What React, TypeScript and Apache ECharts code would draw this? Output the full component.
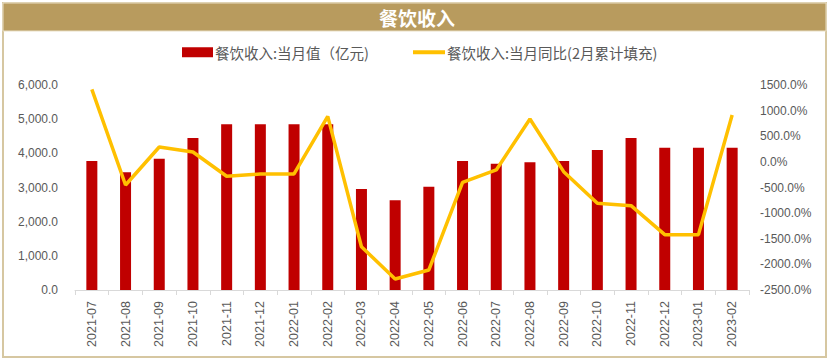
import React, { useEffect, useRef } from "react";
import * as echarts from "echarts";

const categories = [
  "2021-07", "2021-08", "2021-09", "2021-10", "2021-11", "2021-12",
  "2022-01", "2022-02", "2022-03", "2022-04", "2022-05", "2022-06",
  "2022-07", "2022-08", "2022-09", "2022-10", "2022-11", "2022-12",
  "2023-01", "2023-02",
];

const monthlyValue = [
  3777, 3445, 3844, 4449, 4849, 4849, 4849, 4849, 2956, 2625,
  3024, 3776, 3698, 3737, 3776, 4098, 4449, 4166, 4166, 4166,
];

const yoyValue = [
  1416, -451, 290, 193, -281, -236, -236, 889, -1655, -2285,
  -2109, -398, -158, 837, -191, -808, -854, -1420, -1420, 915,
];

const barName = "餐饮收入:当月值（亿元)";
const lineName = "餐饮收入:当月同比(2月累计填充)";
const titleText = "餐饮收入";

export default function App() {
  const ref = useRef<HTMLDivElement>(null);
  useEffect(() => {
    if (!ref.current) return;
    const chart = echarts.init(ref.current, null, { renderer: "svg" });
    const labelColor = "#595959";
    const font = "'Liberation Sans', Arial, sans-serif";
    const cjk = "'Noto Sans CJK SC', sans-serif";
    chart.setOption({
      animation: false,
      backgroundColor: "#ffffff",
      graphic: [
        {
          type: "rect",
          shape: { x: 3, y: 3, width: 823, height: 354 },
          style: { fill: "none", stroke: "#D6C7A1", lineWidth: 2 },
          z: 0,
        },
        {
          type: "rect",
          shape: { x: 3, y: 3, width: 823, height: 28 },
          style: { fill: "#B89B5E", stroke: "#E9DFC6", lineWidth: 1 },
          z: 1,
        },
      ],
      title: {
        text: titleText,
        left: 417,
        top: 6,
        padding: 0,
        textAlign: "center",
        textStyle: {
          color: "#ffffff",
          fontSize: 19,
          fontWeight: "bold",
          fontFamily: cjk,
          lineHeight: 22,
        },
        z: 5,
      },
      legend: [
        {
          data: [barName],
          left: 182,
          top: 45,
          padding: 0,
          itemWidth: 31,
          itemHeight: 10,
          icon: "rect",
          textStyle: { color: labelColor, fontSize: 14.5, fontFamily: cjk, padding: [0, 0, 0, -3] },
        },
        {
          data: [lineName],
          left: 413,
          top: 45,
          padding: 0,
          itemWidth: 32,
          itemHeight: 4,
          icon: "rect",
          textStyle: { color: labelColor, fontSize: 14.5, fontFamily: cjk, padding: [0, 0, 0, -3] },
        },
      ],
      grid: { left: 75, right: 83, top: 85, bottom: 74, containLabel: false },
      xAxis: {
        type: "category",
        data: categories,
        boundaryGap: true,
        axisLine: { lineStyle: { color: "#D9D9D9", width: 1 } },
        axisTick: { show: true, alignWithLabel: false, length: 5, lineStyle: { color: "#D9D9D9" } },
        axisLabel: {
          rotate: 90,
          color: labelColor,
          fontSize: 12.5,
          fontFamily: font,
          margin: 11,
          interval: 0,
        },
        splitLine: { show: false },
      },
      yAxis: [
        {
          type: "value",
          min: 0,
          max: 6000,
          interval: 1000,
          axisLine: { show: false },
          axisTick: { show: false },
          splitLine: { show: false },
          axisLabel: {
            color: labelColor,
            fontSize: 12,
            fontFamily: font,
            margin: 17,
            formatter: (v: number) =>
              v.toLocaleString("en-US", { minimumFractionDigits: 1, maximumFractionDigits: 1 }),
          },
        },
        {
          type: "value",
          min: -2500,
          max: 1500,
          interval: 500,
          position: "right",
          axisLine: { show: false },
          axisTick: { show: false },
          splitLine: { show: false },
          axisLabel: {
            color: labelColor,
            fontSize: 12,
            fontFamily: font,
            margin: 11,
            formatter: (v: number) => v.toFixed(1) + "%",
          },
        },
      ],
      series: [
        {
          name: barName,
          type: "bar",
          data: monthlyValue,
          barWidth: 11,
          itemStyle: { color: "#C00000" },
          yAxisIndex: 0,
        },
        {
          name: lineName,
          type: "line",
          data: yoyValue,
          yAxisIndex: 1,
          symbol: "none",
          lineStyle: { color: "#FFC000", width: 3.5 },
          itemStyle: { color: "#FFC000" },
          z: 3,
        },
      ],
    });
    return () => chart.dispose();
  }, []);
  return (
    <div
      ref={ref}
      style={{ position: "fixed", left: 0, top: 0, width: 832, height: 364 }}
    />
  );
}
